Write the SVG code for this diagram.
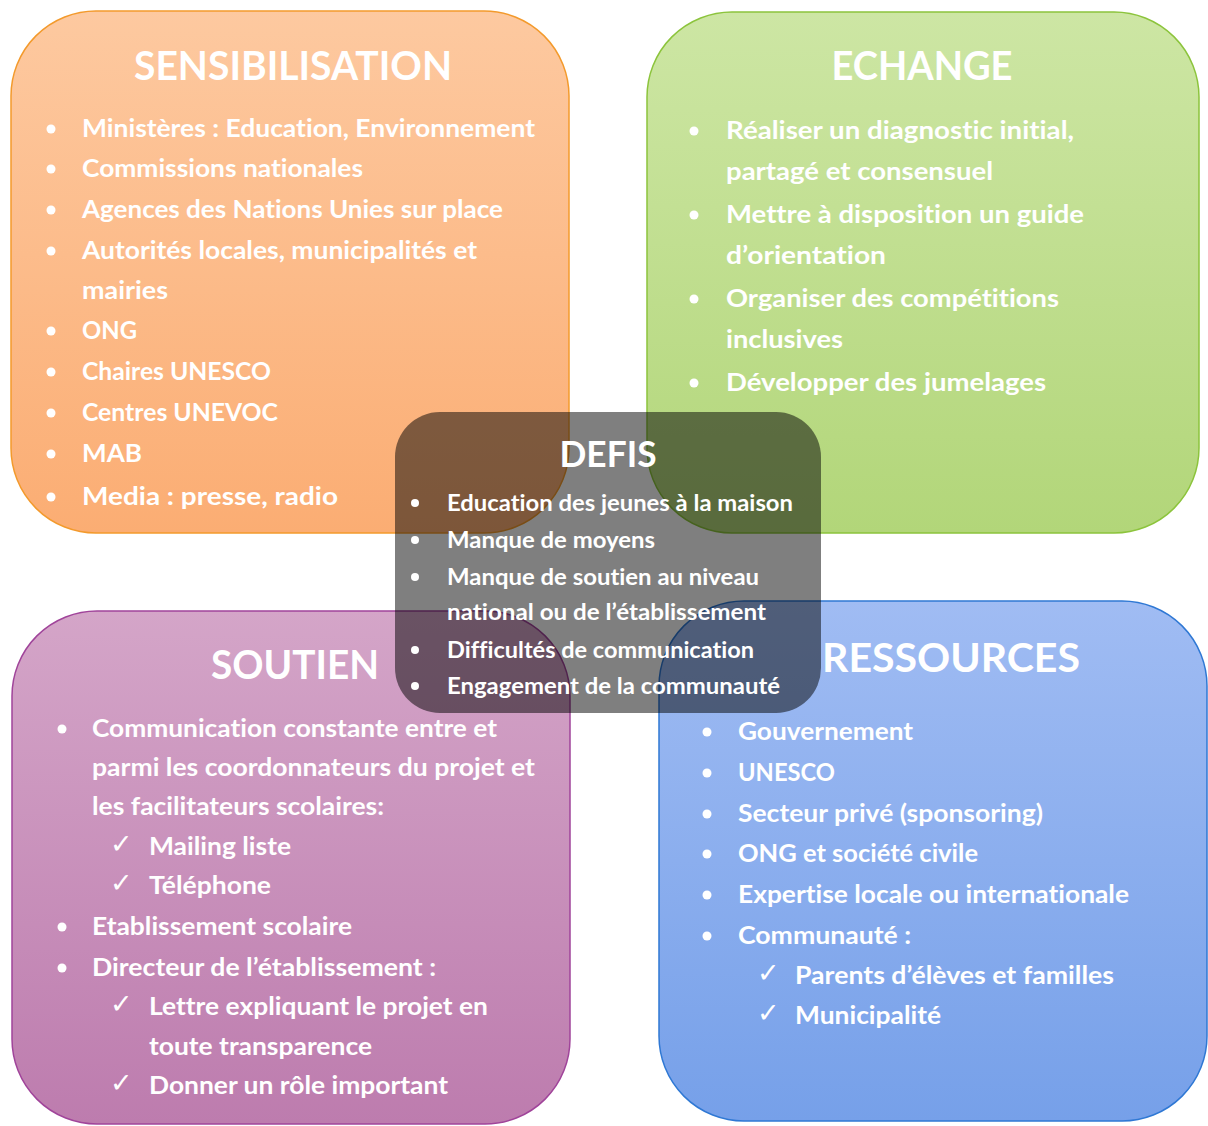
<svg xmlns="http://www.w3.org/2000/svg" width="1208" height="1126" viewBox="0 0 1208 1126">
<defs>
<linearGradient id="gO" x1="0" y1="0" x2="0" y2="1"><stop offset="0" stop-color="#fdc9a0"/><stop offset="1" stop-color="#fbad73"/></linearGradient>
<linearGradient id="gG" x1="0" y1="0" x2="0" y2="1"><stop offset="0" stop-color="#cde6a4"/><stop offset="1" stop-color="#b2d679"/></linearGradient>
<linearGradient id="gP" x1="0" y1="0" x2="0" y2="1"><stop offset="0" stop-color="#d4a5c8"/><stop offset="1" stop-color="#bd7cae"/></linearGradient>
<linearGradient id="gB" x1="0" y1="0" x2="0" y2="1"><stop offset="0" stop-color="#a0bcf3"/><stop offset="1" stop-color="#76a0e9"/></linearGradient>
<style>
text{font-family:Lato,"Open Sans","Liberation Sans",sans-serif;font-weight:bold;fill:#fff;font-variant-ligatures:none}
.t{font-size:40px;text-anchor:middle}
.i{font-size:25px}
.d{font-size:22px}
.ck{font-family:"DejaVu Sans",sans-serif;font-weight:normal;font-size:27px}
circle{fill:#fff}
</style>
</defs>
<g id="sensibilisation">
<rect x="11" y="11" width="558" height="522" rx="85" fill="url(#gO)" stroke="#f39a2c" stroke-width="1.5"/>
<text class="t" x="293" y="80" textLength="318" lengthAdjust="spacingAndGlyphs">SENSIBILISATION</text>
<g>
<circle cx="51" cy="129" r="4.5"/><circle cx="51" cy="169" r="4.5"/><circle cx="51" cy="210" r="4.5"/><circle cx="51" cy="251" r="4.5"/><circle cx="51" cy="331" r="4.5"/><circle cx="51" cy="372" r="4.5"/><circle cx="51" cy="413" r="4.5"/><circle cx="51" cy="454" r="4.5"/><circle cx="51" cy="497" r="4.5"/>
</g>
<text class="i" x="82" y="137" textLength="453" lengthAdjust="spacingAndGlyphs">Ministères : Education, Environnement</text>
<text class="i" x="82" y="177" textLength="281" lengthAdjust="spacingAndGlyphs">Commissions nationales</text>
<text class="i" x="82" y="218" textLength="421" lengthAdjust="spacingAndGlyphs">Agences des Nations Unies sur place</text>
<text class="i" x="82" y="259" textLength="395" lengthAdjust="spacingAndGlyphs">Autorités locales, municipalités et</text>
<text class="i" x="82" y="299" textLength="86" lengthAdjust="spacingAndGlyphs">mairies</text>
<text class="i" x="82" y="339" textLength="55" lengthAdjust="spacingAndGlyphs">ONG</text>
<text class="i" x="82" y="380" textLength="189" lengthAdjust="spacingAndGlyphs">Chaires UNESCO</text>
<text class="i" x="82" y="421" textLength="196" lengthAdjust="spacingAndGlyphs">Centres UNEVOC</text>
<text class="i" x="82" y="462" textLength="60" lengthAdjust="spacingAndGlyphs">MAB</text>
<text class="i" x="82" y="505" textLength="256" lengthAdjust="spacingAndGlyphs">Media : presse, radio</text>
</g>
<g id="echange">
<rect x="647" y="12" width="552" height="521" rx="85" fill="url(#gG)" stroke="#8cc43c" stroke-width="1.5"/>
<text class="t" x="922" y="80" textLength="181" lengthAdjust="spacingAndGlyphs">ECHANGE</text>
<circle cx="694" cy="131" r="4.5"/><circle cx="694" cy="215" r="4.5"/><circle cx="694" cy="299" r="4.5"/><circle cx="694" cy="383" r="4.5"/>
<text class="i" x="726" y="139" textLength="348" lengthAdjust="spacingAndGlyphs">Réaliser un diagnostic initial,</text>
<text class="i" x="726" y="180" textLength="267" lengthAdjust="spacingAndGlyphs">partagé et consensuel</text>
<text class="i" x="726" y="223" textLength="358" lengthAdjust="spacingAndGlyphs">Mettre à disposition un guide</text>
<text class="i" x="726" y="264" textLength="160" lengthAdjust="spacingAndGlyphs">d’orientation</text>
<text class="i" x="726" y="307" textLength="333" lengthAdjust="spacingAndGlyphs">Organiser des compétitions</text>
<text class="i" x="726" y="348" textLength="117" lengthAdjust="spacingAndGlyphs">inclusives</text>
<text class="i" x="726" y="391" textLength="320" lengthAdjust="spacingAndGlyphs">Développer des jumelages</text>
</g>
<g id="soutien">
<rect x="12" y="611" width="558" height="513" rx="85" fill="url(#gP)" stroke="#a0449a" stroke-width="1.5"/>
<text class="t" x="295" y="679" textLength="168" lengthAdjust="spacingAndGlyphs">SOUTIEN</text>
<circle cx="62" cy="729" r="4.5"/><circle cx="62" cy="927" r="4.5"/><circle cx="62" cy="968" r="4.5"/>
<text class="i" x="92" y="737" textLength="405" lengthAdjust="spacingAndGlyphs">Communication constante entre et</text>
<text class="i" x="92" y="776" textLength="443" lengthAdjust="spacingAndGlyphs">parmi les coordonnateurs du projet et</text>
<text class="i" x="92" y="815" textLength="292" lengthAdjust="spacingAndGlyphs">les facilitateurs scolaires:</text>
<text class="ck" x="110" y="853">✓</text>
<text class="i" x="149" y="855" textLength="142" lengthAdjust="spacingAndGlyphs">Mailing liste</text>
<text class="ck" x="110" y="892">✓</text>
<text class="i" x="149" y="894" textLength="122" lengthAdjust="spacingAndGlyphs">Téléphone</text>
<text class="i" x="92" y="935" textLength="260" lengthAdjust="spacingAndGlyphs">Etablissement scolaire</text>
<text class="i" x="92" y="976" textLength="344" lengthAdjust="spacingAndGlyphs">Directeur de l’établissement :</text>
<text class="ck" x="110" y="1013">✓</text>
<text class="i" x="149" y="1015" textLength="339" lengthAdjust="spacingAndGlyphs">Lettre expliquant le projet en</text>
<text class="i" x="149" y="1055" textLength="223" lengthAdjust="spacingAndGlyphs">toute transparence</text>
<text class="ck" x="110" y="1092">✓</text>
<text class="i" x="149" y="1094" textLength="299" lengthAdjust="spacingAndGlyphs">Donner un rôle important</text>
</g>
<g id="ressources">
<rect x="659" y="601" width="548" height="520" rx="85" fill="url(#gB)" stroke="#2f78d4" stroke-width="1.5"/>
<text class="t" x="951" y="672" textLength="258" lengthAdjust="spacingAndGlyphs">RESSOURCES</text>
<circle cx="707" cy="732" r="4.5"/><circle cx="707" cy="773" r="4.5"/><circle cx="707" cy="814" r="4.5"/><circle cx="707" cy="854" r="4.5"/><circle cx="707" cy="895" r="4.5"/><circle cx="707" cy="936" r="4.5"/>
<text class="i" x="738" y="740" textLength="175" lengthAdjust="spacingAndGlyphs">Gouvernement</text>
<text class="i" x="738" y="781" textLength="97" lengthAdjust="spacingAndGlyphs">UNESCO</text>
<text class="i" x="738" y="822" textLength="305" lengthAdjust="spacingAndGlyphs">Secteur privé (sponsoring)</text>
<text class="i" x="738" y="862" textLength="240" lengthAdjust="spacingAndGlyphs">ONG et société civile</text>
<text class="i" x="738" y="903" textLength="391" lengthAdjust="spacingAndGlyphs">Expertise locale ou internationale</text>
<text class="i" x="738" y="944" textLength="173" lengthAdjust="spacingAndGlyphs">Communauté :</text>
<text class="ck" x="757" y="982">✓</text>
<text class="i" x="795" y="984" textLength="319" lengthAdjust="spacingAndGlyphs">Parents d’élèves et familles</text>
<text class="ck" x="757" y="1022">✓</text>
<text class="i" x="795" y="1024" textLength="146" lengthAdjust="spacingAndGlyphs">Municipalité</text>
</g>
<g id="defis">
<rect x="395" y="412" width="426" height="301" rx="45" fill="#000" fill-opacity="0.5"/>
<text class="t" x="608" y="467" style="font-size:37px" textLength="97" lengthAdjust="spacingAndGlyphs">DEFIS</text>
<circle cx="415" cy="503" r="4"/><circle cx="415" cy="540" r="4"/><circle cx="415" cy="577" r="4"/><circle cx="415" cy="650" r="4"/><circle cx="415" cy="686" r="4"/>
<text class="d" x="447" y="511" textLength="346" lengthAdjust="spacingAndGlyphs">Education des jeunes à la maison</text>
<text class="d" x="447" y="548" textLength="208" lengthAdjust="spacingAndGlyphs">Manque de moyens</text>
<text class="d" x="447" y="585" textLength="312" lengthAdjust="spacingAndGlyphs">Manque de soutien au niveau</text>
<text class="d" x="447" y="620" textLength="319" lengthAdjust="spacingAndGlyphs">national ou de l’établissement</text>
<text class="d" x="447" y="658" textLength="307" lengthAdjust="spacingAndGlyphs">Difficultés de communication</text>
<text class="d" x="447" y="694" textLength="333" lengthAdjust="spacingAndGlyphs">Engagement de la communauté</text>
</g>
<g id="connectors"/>
</svg>
